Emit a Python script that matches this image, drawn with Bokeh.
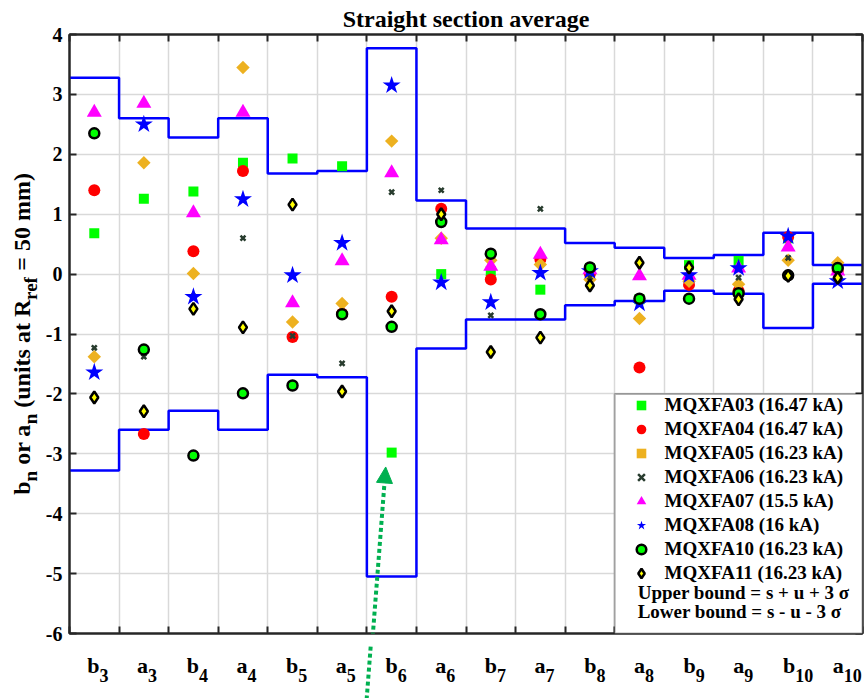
import math
from bokeh.plotting import figure
from bokeh.layouts import row, column
from bokeh.core.properties import value
from bokeh.models import (Range1d, FixedTicker, LinearAxis, Label, Legend, LegendItem,
                          BoxAnnotation, Arrow, NormalHead, Spacer, ColumnDataSource)
from bokeh.embed import file_html
from bokeh.resources import INLINE

# ---------------- data ----------------
harmonics = ["b3", "a3", "b4", "a4", "b5", "a5", "b6", "a6",
             "b7", "a7", "b8", "a8", "b9", "a9", "b10", "a10"]
upper_bound = [3.28, 2.60, 2.28, 2.60, 1.68, 1.72, 3.77, 1.23,
               0.76, 0.76, 0.52, 0.44, 0.27, 0.32, 0.69, 0.15]
lower_bound = [-3.28, -2.60, -2.28, -2.60, -1.68, -1.72, -5.05, -1.24,
               -0.76, -0.76, -0.52, -0.45, -0.28, -0.33, -0.90, -0.16]
mqxfa03 = [0.68, 1.26, 1.38, 1.86, 1.93, 1.80, -2.98, 0.00,
           0.05, -0.26, 0.10, -0.42, 0.15, 0.22, 0.60, 0.10]
mqxfa04 = [1.40, -2.67, 0.38, 1.72, -1.05, -0.66, -0.38, 1.09,
           -0.09, 0.25, 0.00, -1.56, -0.18, -0.28, 0.62, 0.05]
mqxfa05 = [-1.38, 1.86, 0.01, 3.45, -0.80, -0.49, 2.22, 0.60,
           0.23, 0.16, -0.09, -0.74, -0.12, -0.17, 0.23, 0.19]
mqxfa06 = [-1.23, -1.38, -0.37, 0.60, -1.03, -1.49, 1.37, 1.40,
           -0.69, 1.09, -0.05, -0.45, 0.05, -0.06, 0.27, 0.00]
mqxfa07 = [2.70, 2.85, 1.02, 2.70, -0.48, 0.22, 1.69, 0.57,
           0.13, 0.33, 0.07, -0.03, -0.02, 0.10, 0.45, 0.05]
mqxfa08 = [-1.64, 2.50, -0.38, 1.25, -0.02, 0.52, 3.15, -0.14,
           -0.47, 0.02, 0.05, -0.49, -0.02, 0.10, 0.63, -0.12]
mqxfa10 = [2.35, -1.26, -3.03, -1.99, -1.86, -0.67, -0.88, 0.87,
           0.34, -0.67, 0.11, -0.41, -0.41, -0.32, -0.02, 0.10]
mqxfa11 = [-2.06, -2.29, -0.58, -0.89, 1.16, -1.96, -0.62, 1.00,
           -1.30, -1.06, -0.19, 0.19, 0.11, -0.42, -0.03, -0.06]
series_labels = ["MQXFA03 (16.47 kA)", "MQXFA04 (16.47 kA)", "MQXFA05 (16.23 kA)",
                 "MQXFA06 (16.23 kA)", "MQXFA07 (15.5 kA)", "MQXFA08 (16 kA)",
                 "MQXFA10 (16.23 kA)", "MQXFA11 (16.23 kA)"]
y_ticks = [-6, -5, -4, -3, -2, -1, 0, 1, 2, 3, 4]
bound_notes = ["Upper bound = s + u + 3 \u03c3", "Lower bound = s - u - 3 \u03c3"]
title_text = "Straight section average"
ylabel_pieces = [("b", False), ("n", True), ("or a", False), ("n", True),
                 ("(units at R", False), ("ref", True), ("= 50 mm)", False)]

# ---------------- style / layout constants ----------------
SERIF = "Liberation Serif"
AX = "#262626"
GRID = "#d9d9d9"
GREEN_ARROW = "#00b050"
YLAB_W = 42
MAIN_W = 864 - YLAB_W
BORDER_L = 67 - YLAB_W
BORDER_R = 2
BORDER_T = 33
BORDER_B = 12
FRAME_H = 600
MAIN_H = BORDER_T + FRAME_H + BORDER_B
XLAB_H = 698 - MAIN_H
PX_PER_UNIT = FRAME_H / (y_ticks[-1] - y_ticks[0])

# Times-Bold advance widths (em) for placing subscript pieces
ADV = {" ": 0.25, "a": 0.5, "b": 0.556, "e": 0.444, "f": 0.333, "i": 0.278, "m": 0.833,
       "n": 0.556, "o": 0.5, "r": 0.444, "s": 0.389, "t": 0.333, "u": 0.556, "R": 0.722,
       "(": 0.333, ")": 0.333, "=": 0.57, "5": 0.5, "0": 0.5}


def text_width(t, fs):
    return sum(ADV.get(ch, 0.5) for ch in t) * fs


n = len(harmonics)
centers = [i + 0.5 for i in range(n)]
edges = list(range(n + 1))
x_range = Range1d(0, n)

# ---------------- main plot ----------------
p = figure(width=MAIN_W, height=MAIN_H, output_backend="svg", toolbar_location=None,
           x_range=x_range, y_range=Range1d(y_ticks[0], y_ticks[-1]),
           min_border_left=BORDER_L, min_border_right=BORDER_R,
           min_border_top=BORDER_T, min_border_bottom=BORDER_B)
p.background_fill_color = "white"
p.border_fill_color = "white"
p.outline_line_color = AX
p.outline_line_width = 2

p.title.text = title_text
p.title.align = "center"
p.title.text_font = SERIF
p.title.text_font_size = "24px"
p.title.text_font_style = "bold"
p.title.text_color = "black"
p.title.standoff = 6


def style_axis(ax, ticks, labels):
    ax.ticker = FixedTicker(ticks=ticks)
    ax.major_label_overrides = labels
    ax.axis_line_color = AX
    ax.axis_line_width = 2
    ax.major_tick_line_color = AX
    ax.major_tick_line_width = 2
    ax.major_tick_in = 7
    ax.major_tick_out = 0
    ax.minor_tick_line_color = None


style_axis(p.yaxis[0], y_ticks, {v: str(v) for v in y_ticks})
p.yaxis.major_label_text_font = SERIF
p.yaxis.major_label_text_font_style = "bold"
p.yaxis.major_label_text_font_size = "20px"
p.yaxis.major_label_text_color = "black"
p.yaxis.major_label_standoff = 7

style_axis(p.xaxis[0], edges, {v: "" for v in edges})
p.xaxis.major_label_text_font_size = "1px"
p.xaxis.major_label_standoff = 0

right_ax = LinearAxis()
style_axis(right_ax, y_ticks, {v: "" for v in y_ticks})
right_ax.major_label_text_font_size = "1px"
right_ax.major_label_standoff = 0
p.add_layout(right_ax, "right")
top_ax = LinearAxis()
style_axis(top_ax, edges, {v: "" for v in edges})
top_ax.major_label_text_font_size = "1px"
top_ax.major_label_standoff = 0
p.add_layout(top_ax, "above")

p.xgrid.ticker = FixedTicker(ticks=edges)
p.ygrid.ticker = FixedTicker(ticks=y_ticks)
for g in (p.xgrid, p.ygrid):
    g.grid_line_color = GRID
    g.grid_line_width = 1.5

# bounds
p.step(edges, upper_bound + upper_bound[-1:], mode="after", line_color="#0000ff", line_width=2.5)
p.step(edges, lower_bound + lower_bound[-1:], mode="after", line_color="#0000ff", line_width=2.5)

# series
r03 = p.scatter(centers, mqxfa03, marker="square", size=10, fill_color="#00ff00", line_color=None)
r04 = p.scatter(centers, mqxfa04, marker="circle", size=12, fill_color="#ff0000", line_color=None)
r05 = p.scatter(centers, mqxfa05, marker="square", angle=math.pi / 4, size=9.5,
                fill_color="#EDB120", line_color=None)
r06 = p.scatter(centers, mqxfa06, marker="x", size=7, line_color="#283c2e", line_width=2.5)
r07 = p.scatter(centers, mqxfa07, marker="triangle", size=15, fill_color="#ff00ff", line_color=None)
r08 = p.scatter(centers, mqxfa08, marker="star", size=19, fill_color="#0000ff", line_color=None)
r10 = p.scatter(centers, mqxfa10, marker="circle", size=10, fill_color="#00ff00",
                line_color="black", line_width=2.5)
r11 = p.scatter(centers, mqxfa11, marker="diamond", size=12, fill_color="#ffff00",
                line_color="black", line_width=2.5)
renderers = [r03, r04, r05, r06, r07, r08, r10, r11]

# legend box
box = BoxAnnotation(left=11, right=16, top=-2, bottom=-6, fill_color="white", fill_alpha=1,
                    line_color="black", line_width=2, level="annotation")
p.add_layout(box)

frame_w = MAIN_W - BORDER_L - BORDER_R
legend_left = 11 / 16 * frame_w + 10
legend = Legend(items=[LegendItem(label=l, renderers=[r]) for l, r in zip(series_labels, renderers)],
                location=(legend_left, 48), border_line_color=None, background_fill_alpha=0,
                label_text_font=SERIF, label_text_font_style="bold", label_text_font_size="19px",
                label_text_color="black",
                glyph_width=30, glyph_height=24, label_height=24, spacing=0, padding=0, margin=0,
                label_standoff=9)
p.add_layout(legend)

for k, note in enumerate(bound_notes):
    p.add_layout(Label(x=11, y=-5.32 - 0.31 * k, x_offset=23, text=note, text_baseline="middle",
                       text_font=SERIF, text_font_style="bold", text_font_size="19px",
                       text_color="black"))

# annotation arrow pointing at the b6 outlier
arrow_start = (6.02, -7.1)
arrow_end = (6.38, -3.22)
p.add_layout(Arrow(end=NormalHead(size=16, fill_color=GREEN_ARROW, line_color=GREEN_ARROW),
                   x_start=arrow_start[0], y_start=arrow_start[1],
                   x_end=arrow_end[0], y_end=arrow_end[1],
                   line_color=GREEN_ARROW, line_width=4, line_dash="4 3"))

# ---------------- x tick labels strip (shares x range and y scale) ----------------
gap = BORDER_B / PX_PER_UNIT
xl_top = y_ticks[0] - gap
xl_bottom = xl_top - XLAB_H / PX_PER_UNIT
xlab = figure(width=MAIN_W, height=XLAB_H, output_backend="svg", toolbar_location=None,
              x_range=x_range, y_range=Range1d(xl_bottom, xl_top),
              x_axis_type=None, y_axis_type=None,
              min_border_left=BORDER_L, min_border_right=BORDER_R,
              min_border_top=0, min_border_bottom=0)
xlab.title.visible = False
xlab.outline_line_color = None
xlab.xgrid.visible = False
xlab.ygrid.visible = False
xlab.background_fill_color = "white"
xlab.border_fill_color = "white"

MAIN_FS, SUB_FS = 22, 18
letters = [h[0] for h in harmonics]
orders = [h[1:] for h in harmonics]
sub_off = [text_width(l, MAIN_FS) - 5 for l in letters]
src = ColumnDataSource(dict(x=centers, letter=letters, order=orders, sub_off=sub_off))
main_base = y_ticks[0] - 32 / PX_PER_UNIT
sub_base = y_ticks[0] - 42 / PX_PER_UNIT
xlab.text(x="x", y=main_base, text="letter", source=src, x_offset=-5,
          text_align="left", text_baseline="alphabetic", text_font=value(SERIF),
          text_font_style="bold", text_font_size=f"{MAIN_FS}px", text_color="black")
xlab.text(x="x", y=sub_base, text="order", source=src, x_offset="sub_off",
          text_align="left", text_baseline="alphabetic", text_font=value(SERIF),
          text_font_style="bold", text_font_size=f"{SUB_FS}px", text_color="black")
# continuation of the dotted arrow below the axes
xlab.segment(x0=[arrow_start[0]], y0=[arrow_start[1]], x1=[arrow_end[0]], y1=[arrow_end[1]],
             line_color=GREEN_ARROW, line_width=4, line_dash="4 3")

# ---------------- y label strip ----------------
ylab = figure(width=YLAB_W, height=MAIN_H, output_backend="svg", toolbar_location=None,
              x_range=Range1d(0, YLAB_W), y_range=Range1d(0, FRAME_H),
              x_axis_type=None, y_axis_type=None,
              min_border_left=0, min_border_right=0,
              min_border_top=BORDER_T, min_border_bottom=BORDER_B)
ylab.title.visible = False
ylab.outline_line_color = None
ylab.xgrid.visible = False
ylab.ygrid.visible = False
ylab.background_fill_color = "white"
ylab.border_fill_color = "white"

YL_MAIN, YL_SUB = 24, 19
pos_list, txt_list, fs_list, x_list = [], [], [], []
pos = 0.0
for i, (t, sub) in enumerate(ylabel_pieces):
    fs = YL_SUB if sub else YL_MAIN
    if i > 0 and not sub:
        pos += text_width(" ", YL_MAIN)
    pos_list.append(pos)
    txt_list.append(t)
    fs_list.append(f"{fs}px")
    x_list.append(30 if sub else 21)
    pos += text_width(t, fs)
start = FRAME_H / 2 - pos / 2
ysrc = ColumnDataSource(dict(x=x_list, y=[start + q for q in pos_list], t=txt_list, fs=fs_list))
ylab.text(x="x", y="y", text="t", source=ysrc, angle=math.pi / 2, text_align="left",
          text_baseline="alphabetic", text_font=value(SERIF), text_font_style="bold",
          text_font_size="fs", text_color="black")

layout = column(row(ylab, p, spacing=0),
                row(Spacer(width=YLAB_W, height=XLAB_H), xlab, spacing=0),
                spacing=0)

open("out.html", "w").write(file_html(layout, INLINE))
